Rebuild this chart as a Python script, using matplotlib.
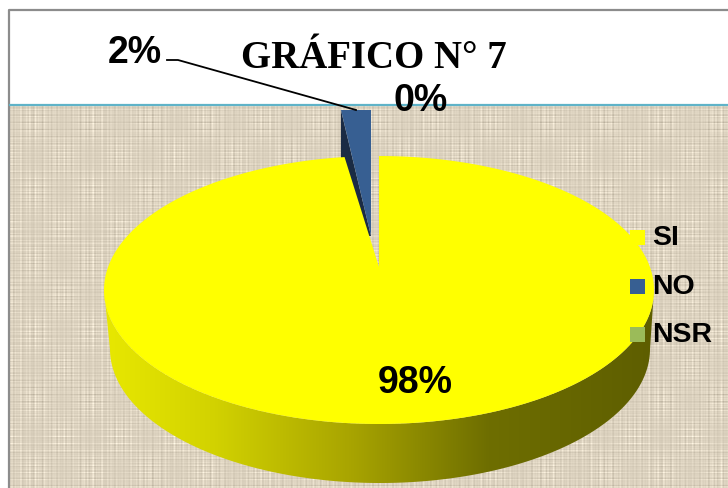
import numpy as np
import matplotlib.pyplot as plt
from matplotlib.colors import LinearSegmentedColormap
from matplotlib.patches import Polygon, Rectangle

# Data
categories = ['SI', 'NO', 'NSR']
percentages = [98, 2, 0]
slice_colors = ['#FFFF00', '#375F92', '#9BBB59']
title = 'GRÁFICO N° 7'

W, H = 728, 489


def ellipse_arc(cx, cy, rx, ry, start, end, n=300):
    # angles in degrees, clockwise from the top of the pie
    a = np.radians(np.linspace(start, end, n))
    return np.column_stack([cx + rx * np.sin(a), cy - ry * np.cos(a)])


fig = plt.figure(figsize=(W / 100, H / 100), dpi=100)
ax = fig.add_axes([0, 0, 1, 1])
ax.set_xlim(0, W)
ax.set_ylim(H, 0)
ax.axis('off')

# burlap background, made of crossing sine threads
x = np.arange(10, W)
y = np.arange(107, H)
cols = (np.sin(x * 1.31) + 0.9 * np.sin(x * 2.17 + 1) + 0.8 * np.sin(x * 0.73) * np.sin(x * 0.05))
rows = (np.sin(y * 1.73) + 0.9 * np.sin(y * 2.63 + 2) + 0.8 * np.sin(y * 0.91) * np.sin(y * 0.06))
patches = np.sin(x[None, :] * 0.11 + 1) * np.sin(y[:, None] * 0.09)
tex = (cols[None, :] + rows[:, None]) * (0.75 + 0.35 * patches) + patches * 0.3
base = np.array([221, 211, 192]) / 255
img = np.clip(base + (tex[..., None] * 0.032), 0, 1)
ax.imshow(img, extent=(10, W, H, 107), interpolation='bilinear', aspect='auto', zorder=0)
ax.set_xlim(0, W)
ax.set_ylim(H, 0)

# frame
ax.plot([9, 9, W], [H, 11, 11], color='#8c8c8c', lw=1.6, zorder=1)
ax.plot([10, W], [106, 106], color='#5FB3C8', lw=1.6, zorder=1)

shares = np.cumsum(percentages) / np.sum(percentages) * 360
si_end = shares[0]

# exploded NO slice: dark inner face, then the blue top
no_arc = ellipse_arc(371, 351, 240, 240, si_end, 360, 30)
no_arc[:, 1] = 111
ax.add_patch(Polygon([no_arc[0], (371, 237), (341, 237)], color='#1A2B44', lw=0, zorder=2))
ax.add_patch(Polygon(np.vstack([no_arc, [(371, 237)]]), color=slice_colors[1], lw=0, zorder=3))

# side wall of the pie with a left to right gradient
side_cmap = LinearSegmentedColormap.from_list(
    'side', [(0, '#E8E800'), (0.2, '#D2D200'), (0.45, '#A8A400'), (0.7, '#6E6E00'), (1, '#5E5E00')])
grad = np.linspace(0, 1, 256)[None, :]
side_img = ax.imshow(grad, extent=(104, 654, 490, 150), cmap=side_cmap, aspect='auto', zorder=2)
ax.set_xlim(0, W)
ax.set_ylim(H, 0)
top_half = ellipse_arc(379, 291, 275, 134, 270, 90)
low_half = ellipse_arc(380, 350, 270, 134, 90, 270)
side_clip = Polygon(np.vstack([top_half, low_half]), transform=ax.transData, fc='none', ec='none')
ax.add_patch(side_clip)
side_img.set_clip_path(side_clip)

# SI slice top
si_arc = ellipse_arc(379, 291, 275, 134, 0, si_end)
ax.add_patch(Polygon(np.vstack([si_arc, [(379, 268)]]), color=slice_colors[0], lw=0, zorder=4))

# data labels
label_font = dict(family='Liberation Sans', weight='bold', fontsize=27, color='black', zorder=6,
                  ha='center', va='center')
ax.text(415, 383, f'{percentages[0]}%', **label_font)
ax.text(135, 53, f'{percentages[1]}%', **label_font)
ax.text(421, 101, f'{percentages[2]}%', **label_font)
ax.plot([167, 178, 356], [61, 61, 111], color='black', lw=1.3, zorder=6)

ax.text(374, 58, title, family='Liberation Serif', weight='bold', fontsize=28,
        ha='center', va='center', color='black', zorder=6)

# legend
legend_y = [238, 287, 335]
for name, col, ly in zip(categories, slice_colors, legend_y):
    ax.add_patch(Rectangle((630, ly - 7.5), 15, 15, color=col, lw=0, zorder=5))
    ax.text(652, ly, name, family='Liberation Sans', weight='bold', fontsize=20.5,
            ha='left', va='center', color='black', zorder=6)

fig.savefig('out.png', dpi=100)
